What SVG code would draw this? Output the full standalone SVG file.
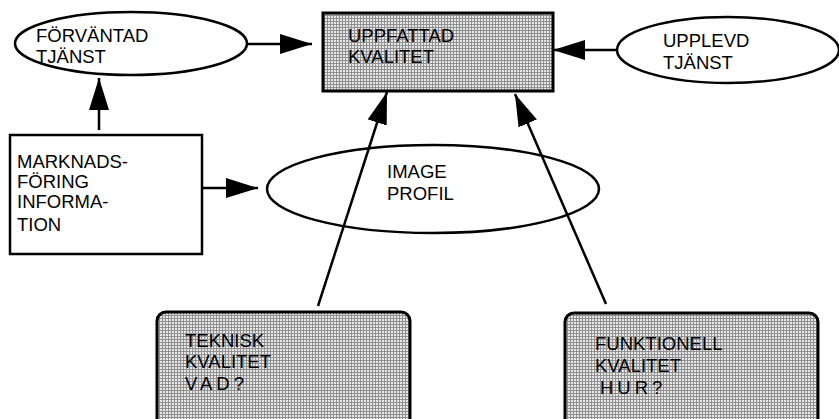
<svg xmlns="http://www.w3.org/2000/svg" width="839" height="419" viewBox="0 0 839 419">
<defs>
<pattern id="grid" width="3" height="3" patternUnits="userSpaceOnUse">
<rect width="3" height="3" fill="#e6e6e6"/>
<path d="M0 0.5H3M0.5 0V3" stroke="#909090" stroke-width="1"/>
</pattern>
<marker id="arr" markerUnits="userSpaceOnUse" markerWidth="34" markerHeight="22" refX="32" refY="10" orient="auto" viewBox="0 0 34 22">
<path d="M0,0 L32,10 L0,20 Z" fill="#000"/>
</marker>
<style>
.t{font-family:"Liberation Sans",Arial,sans-serif;font-size:18.5px;fill:#000}
.ell{fill:#fff;stroke:#000;stroke-width:2.5}
.box{fill:#fff;stroke:#000;stroke-width:2.5}
.shade{fill:url(#grid);stroke:#000;stroke-width:3}
.c{stroke:#000;stroke-width:2.5;fill:none;marker-end:url(#arr)}
</style>
</defs>
<g id="uppfattad">
<rect class="shade" x="323" y="13" width="230" height="78"/>
<text class="t" x="348" y="42">UPPFATTAD</text>
<text class="t" x="348" y="63">KVALITET</text>
</g>
<g id="forvantad">
<ellipse class="ell" cx="131" cy="43.5" rx="116" ry="31.5"/>
<text class="t" x="36" y="42">FÖRVÄNTAD</text>
<text class="t" x="36" y="63">TJÄNST</text>
</g>
<g id="upplevd">
<ellipse class="ell" cx="728" cy="50" rx="111" ry="33"/>
<text class="t" x="663" y="47">UPPLEVD</text>
<text class="t" x="663" y="69">TJÄNST</text>
</g>
<g id="marknad">
<rect class="box" x="10" y="135" width="192" height="119"/>
<text class="t" x="17" y="168">MARKNADS-</text>
<text class="t" x="17" y="188">FÖRING</text>
<text class="t" x="17" y="208">INFORMA-</text>
<text class="t" x="17" y="231">TION</text>
</g>
<g id="image">
<ellipse class="ell" cx="433" cy="189" rx="166" ry="44"/>
<text class="t" x="387" y="178">IMAGE</text>
<text class="t" x="387" y="200">PROFIL</text>
</g>
<g id="teknisk">
<rect class="shade" x="157" y="312" width="253" height="120" rx="9"/>
<text class="t" x="185" y="347">TEKNISK</text>
<text class="t" x="185" y="368">KVALITET</text>
<text class="t" x="185" y="390" letter-spacing="4">VAD?</text>
</g>
<g id="funktionell">
<rect class="shade" x="565" y="313" width="253" height="120" rx="9"/>
<text class="t" x="595" y="350">FUNKTIONELL</text>
<text class="t" x="595" y="372">KVALITET</text>
<text class="t" x="600" y="394" letter-spacing="4">HUR?</text>
</g>
<g id="connectors">
<line class="c" x1="248" y1="44" x2="312" y2="44"/>
<line class="c" x1="617" y1="50" x2="553" y2="50"/>
<line class="c" x1="99" y1="130" x2="99" y2="78"/>
<line class="c" x1="202" y1="188" x2="258" y2="188"/>
<line class="c" x1="318" y1="306" x2="387" y2="92"/>
<line class="c" x1="606" y1="304" x2="515" y2="94"/>
</g>
</svg>
